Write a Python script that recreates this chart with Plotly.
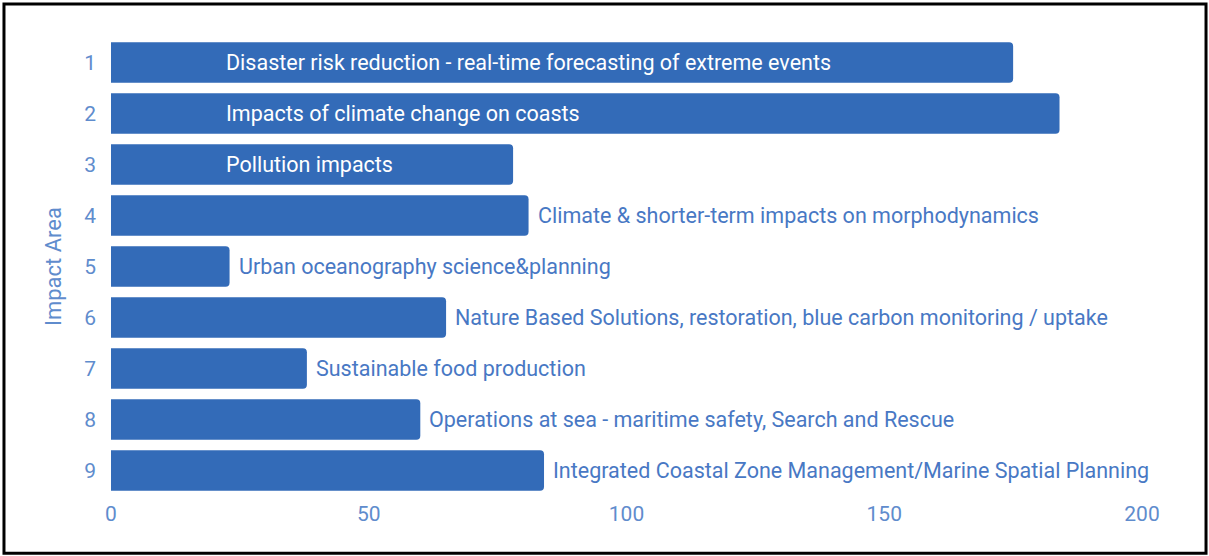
import plotly.graph_objects as go

areas = ["1", "2", "3", "4", "5", "6", "7", "8", "9"]
values = [175, 184, 78, 81, 23, 65, 38, 60, 84]
labels = [
    "Disaster risk reduction - real-time forecasting of extreme events",
    "Impacts of climate change on coasts",
    "Pollution impacts",
    "Climate & shorter-term impacts on morphodynamics",
    "Urban oceanography science&planning",
    "Nature Based Solutions, restoration, blue carbon monitoring / uptake",
    "Sustainable food production",
    "Operations at sea - maritime safety, Search and Rescue",
    "Integrated Coastal Zone Management/Marine Spatial Planning",
]
inside = [True, True, True, False, False, False, False, False, False]
x_ticks = [0, 50, 100, 150, 200]

BAR = "#336bb8"
TXT = "#4878c4"
TICK = "#5f8ccd"
FONT = "Roboto"
FS = 21.5

fig = go.Figure()
fig.add_trace(go.Bar(
    x=values, y=areas, orientation="h",
    marker=dict(color=BAR, line=dict(width=0)),
    width=0.79,
    hoverinfo="skip",
))

for idx, (v, t, i) in enumerate(zip(values, labels, inside)):
    if i:
        fig.add_annotation(x=22, y=idx, text=t, xanchor="left", showarrow=False,
                           font=dict(family=FONT, size=FS, color="white"))
    else:
        fig.add_annotation(x=v, y=idx, text=t, xanchor="left", showarrow=False,
                           xshift=7, font=dict(family=FONT, size=FS, color=TXT))

fig.add_shape(type="rect", xref="paper", yref="paper",
              x0=-0.1038, x1=1.0621, y0=-0.1245, y1=1.0719,
              line=dict(color="black", width=3), layer="above")

fig.update_layout(
    width=1209, height=556,
    margin=dict(l=111, r=67, t=37, b=60),
    paper_bgcolor="white", plot_bgcolor="white",
    showlegend=False,
    barcornerradius=4,
    font=dict(family=FONT, size=FS, color=TICK),
    xaxis=dict(range=[0, 200], tickvals=x_ticks, showgrid=False, zeroline=False,
               showline=False, ticks="", tickfont=dict(size=21, color=TICK),
               ticklabelstandoff=3),
    yaxis=dict(autorange="reversed", type="category", showgrid=False, ticks="",
               tickfont=dict(size=21, color=TICK), ticklabelstandoff=14,
               title=dict(text="Impact Area", font=dict(size=22, color=TICK), standoff=16)),
)

fig.write_html("out.html", config={"displayModeBar": False},
               post_script="document.body.style.margin='0';")
